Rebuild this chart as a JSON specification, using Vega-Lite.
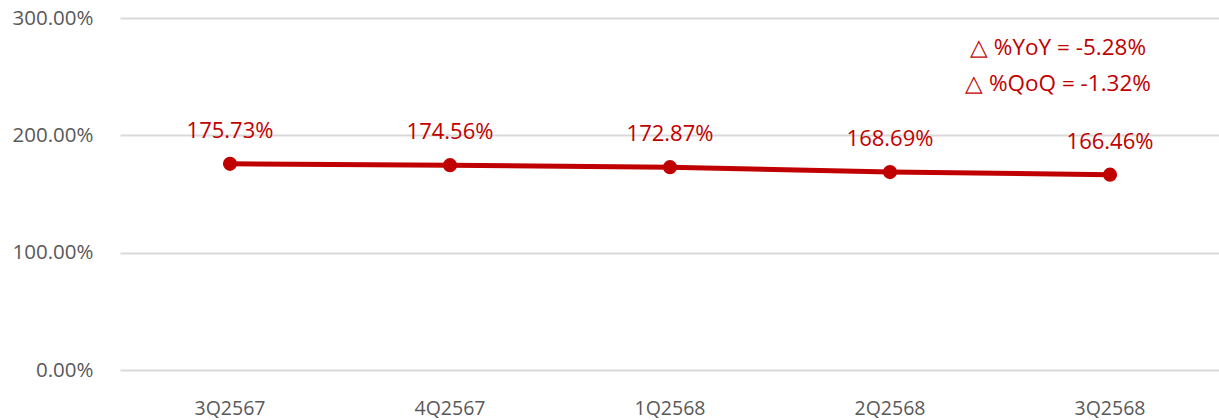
{
  "$schema": "https://vega.github.io/schema/vega-lite/v6.json",
  "width": 1100,
  "height": 352,
  "autosize": {"type": "none"},
  "padding": {"left": 120, "top": 18, "right": 0, "bottom": 50},
  "config": {
    "view": {"stroke": null},
    "font": "Open Sans"
  },
  "datasets": {
    "main": [
      {"q": "3Q2567", "v": 175.73, "label": "175.73%"},
      {"q": "4Q2567", "v": 174.56, "label": "174.56%"},
      {"q": "1Q2568", "v": 172.87, "label": "172.87%"},
      {"q": "2Q2568", "v": 168.69, "label": "168.69%"},
      {"q": "3Q2568", "v": 166.46, "label": "166.46%"}
    ],
    "notes": [
      {"q": "3Q2568", "v": 274.4, "text": "△ %YoY = -5.28%"},
      {"q": "3Q2568", "v": 243.8, "text": "△ %QoQ = -1.32%"}
    ]
  },
  "encoding": {
    "x": {
      "field": "q", "type": "nominal", "sort": null,
      "scale": {"type": "band", "paddingInner": 0, "paddingOuter": 0, "domain": ["3Q2567", "4Q2567", "1Q2568", "2Q2568", "3Q2568"]},
      "axis": {"title": null, "domain": false, "ticks": false, "labelAngle": 0, "labelPadding": 29, "labelFontSize": 19.5, "labelColor": "#595959", "labelFont": "Open Sans"}
    },
    "y": {
      "field": "v", "type": "quantitative",
      "scale": {"domain": [0, 300], "nice": false},
      "axis": {"title": null, "values": [0, 100, 200, 300], "labelExpr": "format(datum.value, '.2f') + '%'", "domain": false, "ticks": false, "labelPadding": 27, "labelFontSize": 20.5, "labelColor": "#595959", "labelFont": "Open Sans", "gridColor": "#d9d9d9", "gridWidth": 2}
    }
  },
  "layer": [
    {
      "data": {"name": "main"},
      "mark": {"type": "line", "color": "#C00000", "strokeWidth": 5}
    },
    {
      "data": {"name": "main"},
      "mark": {"type": "point", "filled": true, "color": "#C00000", "size": 200, "opacity": 1}
    },
    {
      "data": {"name": "main"},
      "mark": {"type": "text", "color": "#C00000", "fontSize": 22, "dy": -33, "font": "Open Sans"},
      "encoding": {"text": {"field": "label"}}
    },
    {
      "data": {"name": "notes"},
      "mark": {"type": "text", "color": "#C00000", "fontSize": 22.5, "dx": -52, "font": "Open Sans"},
      "encoding": {"text": {"field": "text"}}
    }
  ]
}
